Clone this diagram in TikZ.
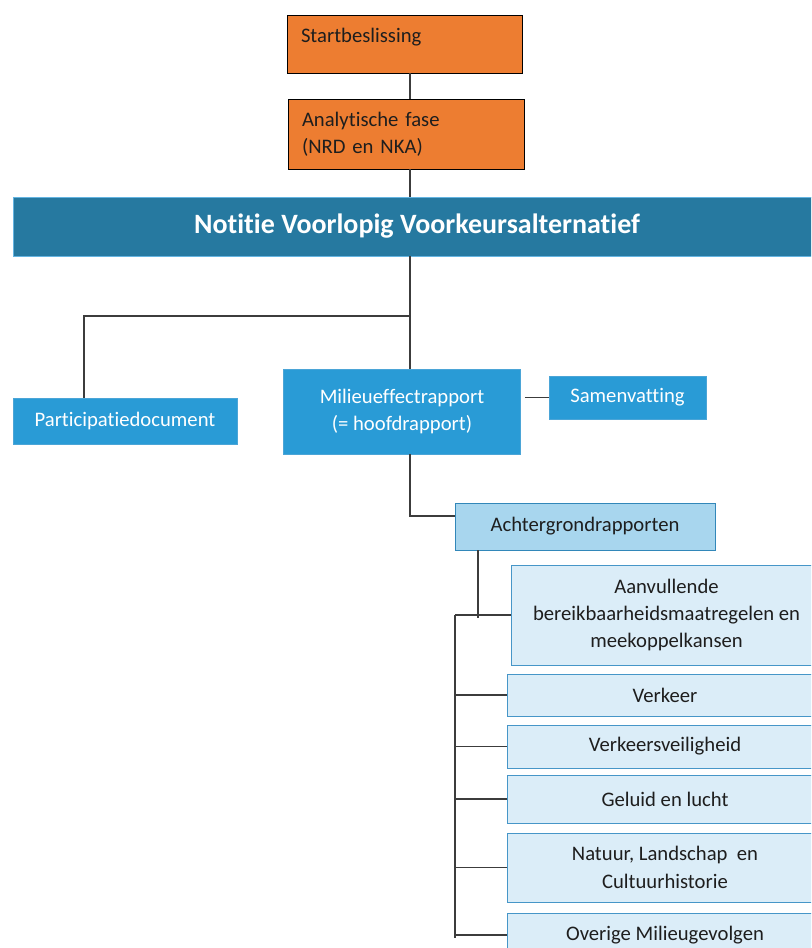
\documentclass[tikz,border=0pt]{standalone}
\usepackage{fontspec}
\setmainfont{Carlito}[Ligatures={NoCommon}]
\usepackage{tikz}
\usetikzlibrary{positioning, calc}
\definecolor{phaseorange}{RGB}{237,125,49}
\definecolor{barblue}{RGB}{38,121,160}
\definecolor{baredge}{RGB}{100,180,225}
\definecolor{prodblue}{RGB}{41,155,214}
\definecolor{prodedge}{RGB}{75,165,215}
\definecolor{backblue}{RGB}{168,214,238}
\definecolor{backedge}{RGB}{50,135,185}
\definecolor{studyblue}{RGB}{219,237,248}
\definecolor{studyedge}{RGB}{70,150,200}
\definecolor{linegrey}{RGB}{60,60,60}
\definecolor{textdark}{RGB}{30,30,30}
\newcommand{\diagfont}{\fontsize{15.5}{20.6}\selectfont}
\newcommand{\barfont}{\fontsize{21}{25}\selectfont\bfseries}

\begin{document}
\begin{tikzpicture}[
  x=0.75pt, y=-0.75pt,
  font=\diagfont,
  phase/.style={rectangle, draw=black, fill=phaseorange, text=textdark,
              inner xsep=10.5pt, inner ysep=0pt, align=left},
  notabar/.style={rectangle, draw=baredge, fill=barblue, text=white,
              font=\barfont, minimum width=606pt, minimum height=44.25pt},
  product/.style={rectangle, draw=prodedge, fill=prodblue, text=white,
              align=center, inner sep=0pt},
  backrep/.style={rectangle, draw=backedge, fill=backblue, text=textdark,
              align=center, inner sep=0pt},
  study/.style={rectangle, draw=studyedge, fill=studyblue, text=textdark,
              align=center, inner sep=0pt, minimum width=237pt},
  conn/.style={draw=linegrey, line width=1pt}
]

\useasboundingbox (0,0) rectangle (811,948);
\fill[white] (0,0) rectangle (811,948);
\clip (0,0) rectangle (811,948);

% ── Top: decision and analytic phase (spine at x = 410) ──
\coordinate (spine) at (410,0);
\node[phase, text width=155.25pt, text height=21pt, text depth=22.5pt]
  (start) at (404.5,44) {Startbeslissing};
\node[phase, text width=156pt, minimum height=52.5pt]
  (ana) at (406,134) {Analytische fase\\(NRD en NKA)};

% ── Full-width bar ──
\node[notabar] (nva) at (417,226.5) {Notitie Voorlopig Voorkeursalternatief};

% ── Middle row ──
\node[product, minimum width=168pt, minimum height=34.5pt]
  (part) at (125,421) {Participatiedocument};
\node[product, minimum width=178pt, minimum height=63.75pt]
  (mer) at (402,411.5) {Milieueffectrapport\\(= hoofdrapport)};
\node[product, minimum width=117.75pt, minimum height=32.25pt]
  (sam) at (627.5,397.5) {Samenvatting};
\node[backrep, minimum width=195pt, minimum height=35.25pt]
  (acht) at (585,526.5) {Achtergrondrapporten};

% ── Background studies (x = 507 .. beyond the right edge) ──
\node[study, minimum width=233.25pt, minimum height=75pt]
  (aanv) at (666.5,615) {Aanvullende\\bereikbaarheidsmaatregelen en\\meekoppelkansen};
\node[study, minimum height=31.5pt]  (verk) at (665,695)   {Verkeer};
\node[study, minimum height=32.25pt] (vv)   at (665,746.5) {Verkeersveiligheid};
\node[study, minimum height=36pt]    (gel)  at (665,799)   {Geluid en lucht};
\node[study, minimum height=51.75pt] (nat)  at (665,867.5) {Natuur, Landschap\ \ en\\Cultuurhistorie};
\node[study, minimum height=33pt]    (ov)   at (665,935)   {Overige Milieugevolgen};

% ── Connectors along the spine ──
\draw[conn] (start.south -| spine) -- (ana.north -| spine);
\draw[conn] (ana.south -| spine)   -- (nva.north -| spine);
\draw[conn] (nva.south -| spine)   -- (mer.north -| spine);
\coordinate (split) at (410,316);
\draw[conn] (split) -| ([xshift=-30.75pt]part.north);
\draw[conn] ([xshift=3pt]mer.east |- sam) -- (sam.west);
\draw[conn] (mer.south -| spine) |- ([yshift=7.9pt]acht.west);

% ── Bus to the background studies ──
\coordinate (drop) at (478,0);
\coordinate (bus)  at (455,0);
\draw[conn] (acht.south -| drop) -- ([yshift=-2pt]aanv.west -| drop);
\draw[conn] (aanv.west -| bus) -- ([yshift=-2pt]ov.west -| bus);
\foreach \n in {aanv,verk,vv,gel,nat,ov}
  \draw[conn] (\n.west -| bus) -- (\n.west);

\end{tikzpicture}
\end{document}
